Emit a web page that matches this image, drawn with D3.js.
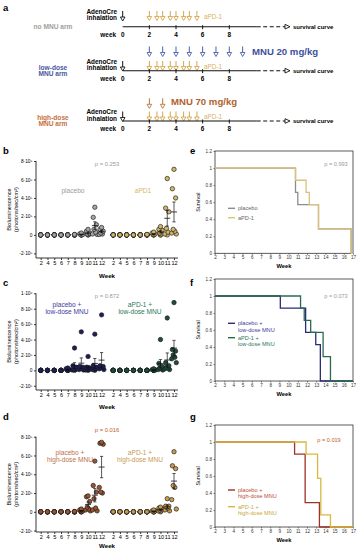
<!DOCTYPE html>
<html>
<head>
<meta charset="utf-8">
<script src="https://cdn.jsdelivr.net/npm/d3@7"></script>
<style>
  body { margin: 0; background: #fff; }
  svg { display: block; }
</style>
</head>
<body>
<div id="chart"></div>
<script>
// ---------- data ----------
// timeline (weeks)
var aPD1Weeks = [2, 2.57, 3, 3.57, 4, 4.57, 5, 5.57];
var mnuLowWeeks = [2, 3, 4, 5, 6, 7, 8, 9];
var mnuHighWeeks = [2, 3];
var timelineTicks = [0, 2, 4, 6, 8];

// scatter x categories
var weekLabels = ["2", "4", "5", "6", "7", "8", "9", "10", "11", "12"];

// bioluminescence, units of 1e5 photons/sec/cm2, one list per week
var bPlacebo = [
  [0, 0, 0, 0, 0, 0, 0], [0, 0, 0, 0, 0, 0, 0], [0, 0, 0, 0, 0, 0, 0], [0, 0, 0, 0, 0, 0, 0],
  [0, 0, 0, 0, 0, 0, 0], [0.05, 0, 0, 0, 0, 0, 0], [0.2, 0.1, 0.05, 0, 0, 0, 0],
  [0.6, 0.4, 0.2, 0.1, 0.05, 0, 0], [3.0, 1.9, 1.1, 0.6, 0.3, 0.1, 0.05], [0.8, 0.6, 0.4, 0.2, 0.1, 0.05]
];
var bAPD1 = [
  [0, 0, 0, 0, 0, 0, 0], [0, 0, 0, 0, 0, 0, 0], [0, 0, 0, 0, 0, 0, 0], [0, 0, 0, 0, 0, 0, 0],
  [0, 0, 0, 0, 0, 0, 0], [0.05, 0, 0, 0, 0, 0, 0], [0.3, 0.2, 0.1, 0.05, 0, 0, 0],
  [0.9, 0.6, 0.5, 0.2, 0.1, 0, 0], [6.1, 2.9, 2.5, 0.7, 0.3, 0.1, 0], [7.1, 5.0, 4.0, 0.6, 0.4, 0.2, 0.1]
];
var cPlacebo = [
  [0, 0, 0, 0, 0, 0, 0], [0, 0, 0, 0, 0, 0, 0], [0, 0, 0, 0, 0, 0, 0], [0, 0, 0, 0, 0, 0, 0],
  [0.3, 0.2, 0.1, 0.05, 0, 0, 0], [2.9, 0.6, 0.4, 0.2, 0.1, 0.05, 0], [5.0, 0.5, 0.4, 0.3, 0.2, 0.1, 0.05],
  [1.8, 0.4, 0.3, 0.2, 0.1, 0.05, 0], [4.7, 0.6, 0.4, 0.3, 0.2, 0.1, 0], [7.2, 0.6, 0.5, 0.4, 0.3, 0.2, 0.1]
];
var cAPD1 = [
  [0, 0, 0, 0, 0, 0, 0], [0, 0, 0, 0, 0, 0, 0], [0, 0, 0, 0, 0, 0, 0], [0, 0, 0, 0, 0, 0, 0],
  [0, 0, 0, 0, 0, 0, 0], [0, 0, 0, 0, 0, 0, 0], [0.2, 0.1, 0.05, 0, 0, 0, 0],
  [4.0, 0.9, 0.5, 0.3, 0.2, 0.1, 0.05], [6.8, 1.0, 0.6, 0.4, 0.3, 0.2, 0.1], [8.8, 2.7, 2.5, 2.0, 1.7, 1.5, 1.0]
];
var dPlacebo = [
  [0, 0, 0, 0, 0, 0, 0], [0, 0, 0, 0, 0, 0, 0], [0, 0, 0, 0, 0, 0, 0], [0, 0, 0, 0, 0, 0, 0],
  [0, 0, 0, 0, 0, 0, 0], [0.05, 0, 0, 0, 0, 0, 0], [0.3, 0.2, 0.1, 0.1, 0, 0, 0],
  [1.7, 1.6, 1.1, 0.5, 0.3, 0.2, 0.1], [5.4, 2.8, 2.1, 1.4, 0.4, 0.2, 0.1], [7.4, 7.3, 7.2, 2.1, 2.0, 2.6]
];
var dAPD1 = [
  [0, 0, 0, 0, 0, 0, 0], [0, 0, 0, 0, 0, 0, 0], [0, 0, 0, 0, 0, 0, 0], [0, 0, 0, 0, 0, 0, 0],
  [0, 0, 0, 0, 0, 0, 0], [0, 0, 0, 0, 0, 0, 0], [0.2, 0.1, 0.1, 0, 0, 0, 0],
  [0.5, 0.4, 0.3, 0.2, 0.1, 0.1, 0], [1.4, 0.6, 0.6, 0.5, 0.4, 0.2, 0.1], [6.4, 4.9, 4.6, 2.8, 2.6, 1.3, 0.3]
];

var yTicks8 = [-2, 0, 2, 4, 6, 8];
var yTickLabels8 = ["-2·10⁵", "0", "2·10⁵", "4·10⁵", "6·10⁵", "8·10⁵"];
var yTicks10 = [-2, 0, 2, 4, 6, 8, 10];
var yTickLabels10 = ["-2·10⁵", "0", "2·10⁵", "4·10⁵", "6·10⁵", "8·10⁵", "1·10⁶"];

// survival steps (week of event, survival after event)
var ePlaceboT = [10.75, 11.0, 13.25, 16.8], ePlaceboS = [0.714, 0.571, 0.286, 0];
var eAPD1T = [10.75, 11.9, 12.25, 13.25, 16.8], eAPD1S = [0.857, 0.714, 0.571, 0.286, 0];
var fPlaceboT = [9.1, 11.85, 12.95, 13.45], fPlaceboS = [0.857, 0.571, 0.429, 0];
var fAPD1T = [11.3, 11.7, 12.4, 13.75, 14.55], fAPD1S = [0.857, 0.714, 0.571, 0.286, 0];
var gPlaceboT = [10.65, 11.8, 13.35], gPlaceboS = [0.857, 0.286, 0];
var gAPD1T = [11.9, 13.15, 13.5, 14.55], gAPD1S = [0.857, 0.571, 0.143, 0];
var survXTicks = [2, 3, 4, 5, 6, 7, 8, 9, 10, 11, 12, 13, 14, 15, 16, 17];
var survYTicks = [0, 0.2, 0.4, 0.6, 0.8, 1, 1.2];

// ---------- setup ----------
var FONT = "Liberation Sans, Arial, Helvetica, sans-serif";
var svg = d3.select("#chart").append("svg")
    .attr("width", 358).attr("height", 550)
    .attr("font-family", FONT);

function panelLetter(x, y, t) {
  svg.append("text").attr("x", x).attr("y", y).attr("font-size", 9.5)
    .attr("font-weight", "bold").text(t);
}

// ---------- panel a: timeline ----------
panelLetter(3, 11, "a");
var weekX = d3.scaleLinear().domain([0, 8]).range([122.7, 229.3]);

function drawArrows(weeks, top, h, color) {
  var g = svg.append("g");
  var arr = g.selectAll("g").data(weeks).enter().append("g");
  arr.append("line")
    .attr("x1", d => weekX(d)).attr("x2", d => weekX(d))
    .attr("y1", top).attr("y2", top + h - 4)
    .attr("stroke", color).attr("stroke-width", 1);
  arr.append("path")
    .attr("d", d => `M${weekX(d) - 2.3},${top + h - 4}L${weekX(d) + 2.3},${top + h - 4}L${weekX(d)},${top + h}Z`)
    .attr("fill", "#fff").attr("stroke", color).attr("stroke-width", 0.9);
}

function timelineRow(lineY, armLines, armColor, aTop) {
  // AdenoCre label and arrow
  svg.append("text").attr("x", 117).attr("y", aTop + 1.5).attr("text-anchor", "end")
    .attr("font-size", 6.4).attr("font-weight", "bold").text("AdenoCre");
  svg.append("text").attr("x", 117).attr("y", aTop + 8.2).attr("text-anchor", "end")
    .attr("font-size", 6.4).attr("font-weight", "bold").text("inhalation");
  drawArrows([0], aTop - 1, 10, "#111");
  drawArrows(aPD1Weeks, aTop - 1, 9.5, "#d6a64c");
  svg.append("text").attr("x", 204).attr("y", aTop + 6.5).attr("font-size", 6.4)
    .attr("fill", "#d8b25e").text("aPD-1");

  // axis line
  svg.append("line").attr("x1", weekX(0)).attr("x2", 256.7).attr("y1", lineY).attr("y2", lineY)
    .attr("stroke", "#111").attr("stroke-width", 1.1);
  svg.append("line").attr("x1", 256.7).attr("x2", 285).attr("y1", lineY).attr("y2", lineY)
    .attr("stroke", "#111").attr("stroke-width", 1.1).attr("stroke-dasharray", "4,2.5");
  svg.append("path").attr("d", `M285,${lineY - 2.3}L290,${lineY}L285,${lineY + 2.3}Z`)
    .attr("fill", "#fff").attr("stroke", "#111").attr("stroke-width", 0.9);
  svg.append("text").attr("x", 293).attr("y", lineY + 2.2).attr("font-size", 6)
    .attr("font-weight", "bold").text("survival curve");

  svg.selectAll(null).data(timelineTicks.slice(1)).enter().append("line")
    .attr("x1", d => weekX(d)).attr("x2", d => weekX(d))
    .attr("y1", lineY - 1.5).attr("y2", lineY + 2.5)
    .attr("stroke", "#111").attr("stroke-width", 1);
  svg.append("text").attr("x", 116).attr("y", lineY + 10).attr("text-anchor", "end")
    .attr("font-size", 6.4).attr("font-weight", "bold").text("week");
  svg.selectAll(null).data(timelineTicks).enter().append("text")
    .attr("x", d => weekX(d)).attr("y", lineY + 10).attr("text-anchor", "middle")
    .attr("font-size", 6.4).attr("font-weight", "bold").text(d => d);

  armLines.forEach(function (t, i) {
    svg.append("text").attr("x", 53).attr("y", lineY + 2.2 + (i - (armLines.length - 1) / 2) * 6.4)
      .attr("text-anchor", "middle").attr("font-size", 6.6).attr("font-weight", "bold")
      .attr("fill", armColor).text(t);
  });
}

timelineRow(26.7, ["no MNU arm"], "#a0a0a0", 12);
timelineRow(70.7, ["low-dose", "MNU arm"], "#4a55a3", 62);
timelineRow(121, ["high-dose", "MNU arm"], "#c4703e", 112.5);

drawArrows(mnuLowWeeks, 46.5, 10, "#4c5ea8");
svg.append("text").attr("x", 252).attr("y", 55).attr("font-size", 9.6).attr("font-weight", "bold")
  .attr("fill", "#3f4f9e").text("MNU 20 mg/kg");
drawArrows(mnuHighWeeks, 98.3, 10, "#b8743c");
svg.append("text").attr("x", 171).attr("y", 105.2).attr("font-size", 9.6).attr("font-weight", "bold")
  .attr("fill", "#b0622c").text("MNU 70 mg/kg");

// ---------- panels b, c, d: bioluminescence scatter ----------
var jitter = [0, -1.6, 1.6, -0.8, 0.8, -2.3, 2.3];

function drawScatter(cfg) {
  var x = d3.scaleLinear().domain([-0.7, 20.3]).range([36, 178]);
  var y = d3.scaleLinear().domain(cfg.yDomain).range([cfg.bottom, cfg.top]);
  var slots = [];
  weekLabels.forEach((w, i) => slots.push(i));
  weekLabels.forEach((w, i) => slots.push(i + 10.71));

  var g = svg.append("g");
  var xAxis = g.append("g").attr("transform", `translate(0,${cfg.bottom})`)
    .call(d3.axisBottom(x).tickValues(slots).tickSize(2).tickPadding(1.5)
      .tickFormat((d, i) => weekLabels[i % 10]));
  var yAxis = g.append("g").attr("transform", "translate(36,0)")
    .call(d3.axisLeft(y).tickValues(cfg.yTicks).tickSize(2).tickPadding(1.5)
      .tickFormat((d, i) => cfg.yLabels[i]));
  [xAxis, yAxis].forEach(function (a) {
    a.attr("font-family", FONT).attr("font-size", 5.6);
    a.selectAll("path,line").attr("stroke", "#222").attr("stroke-width", 0.9);
    a.select(".domain").attr("d", a === xAxis ? "M36,0H178" : `M0,${cfg.top}V${cfg.bottom}`);
  });
  yAxis.selectAll("text").attr("font-size", 4.8);

  g.append("text").attr("x", 107).attr("y", cfg.bottom + cfg.weekDy).attr("text-anchor", "middle")
    .attr("font-size", 6.2).attr("font-weight", "bold").text("Week");
  var mid = (cfg.top + cfg.bottom) / 2;
  g.append("text").attr("transform", `translate(11,${mid}) rotate(-90)`).attr("text-anchor", "middle")
    .attr("font-size", 5.6).text("Bioluminescence");
  g.append("text").attr("transform", `translate(17.5,${mid}) rotate(-90)`).attr("text-anchor", "middle")
    .attr("font-size", 5.6).text("(photons/sec/cm²)");

  g.append("text").attr("x", 107).attr("y", cfg.pY).attr("text-anchor", "middle")
    .attr("font-size", 5.8).attr("fill", cfg.pColor).text(cfg.pText);

  cfg.groups.forEach(function (grp, gi) {
    grp.label.forEach(function (t, li) {
      g.append("text").attr("x", grp.labelX).attr("y", cfg.labelY + li * 6.8)
        .attr("text-anchor", "middle").attr("font-size", 6.6).attr("fill", grp.labelColor).text(t);
    });
    var pts = [];
    grp.values.forEach(function (vals, wi) {
      vals.slice().reverse().forEach(function (v, j) {
        pts.push({ slot: wi + gi * 10.71, v: v, dx: v > 0.02 ? jitter[(vals.length - 1 - j) % 7] : 0 });
      });
    });
    g.selectAll(null).data(pts).enter().append("circle")
      .attr("cx", d => x(d.slot) + d.dx).attr("cy", d => y(d.v)).attr("r", 2.2)
      .attr("fill", grp.fill).attr("stroke", "#1a1a1a").attr("stroke-width", 0.65);

    // mean +/- SEM
    var stats = grp.values.map(function (vals, wi) {
      var m = d3.mean(vals), sd = d3.deviation(vals) || 0;
      return { slot: wi + gi * 10.71, m: m, e: sd / Math.sqrt(vals.length) };
    }).filter(d => d.m > 0.02);
    var eb = g.selectAll(null).data(stats).enter().append("g").attr("stroke", "#111");
    eb.append("line").attr("x1", d => x(d.slot)).attr("x2", d => x(d.slot))
      .attr("y1", d => y(d.m - d.e)).attr("y2", d => y(d.m + d.e)).attr("stroke-width", 0.7);
    eb.append("line").attr("x1", d => x(d.slot) - 1.6).attr("x2", d => x(d.slot) + 1.6)
      .attr("y1", d => y(d.m + d.e)).attr("y2", d => y(d.m + d.e)).attr("stroke-width", 0.7);
    eb.append("line").attr("x1", d => x(d.slot) - 1.6).attr("x2", d => x(d.slot) + 1.6)
      .attr("y1", d => y(d.m - d.e)).attr("y2", d => y(d.m - d.e)).attr("stroke-width", 0.7);
    eb.append("line").attr("x1", d => x(d.slot) - 3).attr("x2", d => x(d.slot) + 3)
      .attr("y1", d => y(d.m)).attr("y2", d => y(d.m)).attr("stroke-width", 0.8);
  });
}

panelLetter(3, 154, "b");
drawScatter({
  top: 161, bottom: 258, yDomain: [-2.5, 8], yTicks: yTicks8, yLabels: yTickLabels8, weekDy: 20,
  pText: "p = 0.253", pColor: "#9a9a9a", pY: 166, labelY: 193,
  groups: [
    { values: bPlacebo, fill: "#a4a4a4", label: ["placebo"], labelColor: "#9c9c9c", labelX: 73 },
    { values: bAPD1, fill: "#d2b66a", label: ["aPD1"], labelColor: "#d4b862", labelX: 143 }
  ]
});

panelLetter(3, 286, "c");
drawScatter({
  top: 293.3, bottom: 390, yDomain: [-2.55, 10], yTicks: yTicks10, yLabels: yTickLabels10, weekDy: 18.5,
  pText: "p = 0.872", pColor: "#9a9a9a", pY: 298, labelY: 307,
  groups: [
    { values: cPlacebo, fill: "#1e1e5a", label: ["placebo +", "low-dose MNU"], labelColor: "#3c3c9c", labelX: 67 },
    { values: cAPD1, fill: "#1d4d3c", label: ["aPD-1 +", "low-dose MNU"], labelColor: "#2e7858", labelX: 140 }
  ]
});

panelLetter(3, 420, "d");
drawScatter({
  top: 436.7, bottom: 532, yDomain: [-2.15, 8], yTicks: yTicks8, yLabels: yTickLabels8, weekDy: 15.5,
  pText: "p = 0.016", pColor: "#c0602a", pY: 432, labelY: 455,
  groups: [
    { values: dPlacebo, fill: "#9a5530", label: ["placebo +", "high-dose MNU"], labelColor: "#c0704a", labelX: 70 },
    { values: dAPD1, fill: "#c89a50", label: ["aPD-1 +", "high-dose MNU"], labelColor: "#c89a50", labelX: 140 }
  ]
});

// ---------- panels e, f, g: survival ----------
function drawSurvival(cfg) {
  var x = d3.scaleLinear().domain([2, 17]).range([215, 353]);
  var y = d3.scaleLinear().domain([0, 1.2]).range([cfg.bottom, cfg.top]);
  var g = svg.append("g");
  g.append("rect").attr("x", 215).attr("y", cfg.top).attr("width", 138).attr("height", cfg.bottom - cfg.top)
    .attr("fill", "none").attr("stroke", "#333").attr("stroke-width", 0.8);
  var xa = g.append("g").attr("transform", `translate(0,${cfg.bottom})`)
    .call(d3.axisBottom(x).tickValues(survXTicks).tickSize(1.5).tickPadding(1).tickFormat(d3.format("d")));
  var ya = g.append("g").attr("transform", "translate(215,0)")
    .call(d3.axisLeft(y).tickValues(survYTicks).tickSize(1.5).tickPadding(1.5).tickFormat(d => d));
  [xa, ya].forEach(function (a) {
    a.attr("font-family", FONT).attr("font-size", 4.6);
    a.select(".domain").remove();
    a.selectAll("line").attr("stroke", "#333").attr("stroke-width", 0.6);
    a.selectAll("text").attr("fill", "#333");
  });
  g.append("text").attr("x", 284).attr("y", cfg.bottom + 14.5).attr("text-anchor", "middle")
    .attr("font-size", 5.8).attr("font-weight", "bold").text("Week");
  g.append("text").attr("transform", `translate(200,${(cfg.top + cfg.bottom) / 2}) rotate(-90)`)
    .attr("text-anchor", "middle").attr("font-size", 5.4).text("Survival");
  g.append("text").attr("x", cfg.pX).attr("y", cfg.pY).attr("text-anchor", "middle")
    .attr("font-size", 5.6).attr("fill", cfg.pColor).text(cfg.pText);

  var line = d3.line().x(d => x(d[0])).y(d => y(d[1])).curve(d3.curveStepAfter);
  cfg.series.forEach(function (s, si) {
    var pts = [[2, 1]];
    s.t.forEach((t, i) => pts.push([t, s.s[i]]));
    pts.push([17, s.s[s.s.length - 1]]);
    g.append("path").attr("d", line(pts)).attr("fill", "none")
      .attr("stroke", s.color).attr("stroke-width", 1.3);
    g.append("line").attr("x1", 228).attr("x2", 235).attr("y1", s.legY).attr("y2", s.legY)
      .attr("stroke", s.color).attr("stroke-width", 1.4);
    s.label.forEach(function (t, li) {
      g.append("text").attr("x", 238).attr("y", s.legY + 2 + li * 6.2)
        .attr("font-size", 5.6).attr("fill", s.labelColor).text(t);
    });
  });
}

panelLetter(190, 154, "e");
drawSurvival({
  top: 151, bottom: 253.3, pText: "p = 0.993", pColor: "#9a9a9a", pX: 336, pY: 166,
  series: [
    { t: ePlaceboT, s: ePlaceboS, color: "#8c8c8c", label: ["placebo"], labelColor: "#666", legY: 208.3 },
    { t: eAPD1T, s: eAPD1S, color: "#d9c27a", label: ["aPD-1"], labelColor: "#666", legY: 217.7 }
  ]
});

panelLetter(190, 286, "f");
drawSurvival({
  top: 279, bottom: 381, pText: "p = 0.073", pColor: "#9a9a9a", pX: 336, pY: 298,
  series: [
    { t: fPlaceboT, s: fPlaceboS, color: "#2b2b7a", label: ["placebo +", "low-dose MNU"], labelColor: "#3c3c9c", legY: 323.3 },
    { t: fAPD1T, s: fAPD1S, color: "#2a6b50", label: ["aPD-1 +", "low-dose MNU"], labelColor: "#2e7858", legY: 337.7 }
  ]
});

panelLetter(190, 420, "g");
drawSurvival({
  top: 425, bottom: 527, pText: "p = 0.019", pColor: "#c0602a", pX: 329, pY: 442,
  series: [
    { t: gPlaceboT, s: gPlaceboS, color: "#a0302a", label: ["placebo +", "high-dose MNU"], labelColor: "#c04a3a", legY: 490 },
    { t: gAPD1T, s: gAPD1S, color: "#d8b840", label: ["aPD-1 +", "high-dose MNU"], labelColor: "#c8a838", legY: 506.7 }
  ]
});
</script>
</body>
</html>
